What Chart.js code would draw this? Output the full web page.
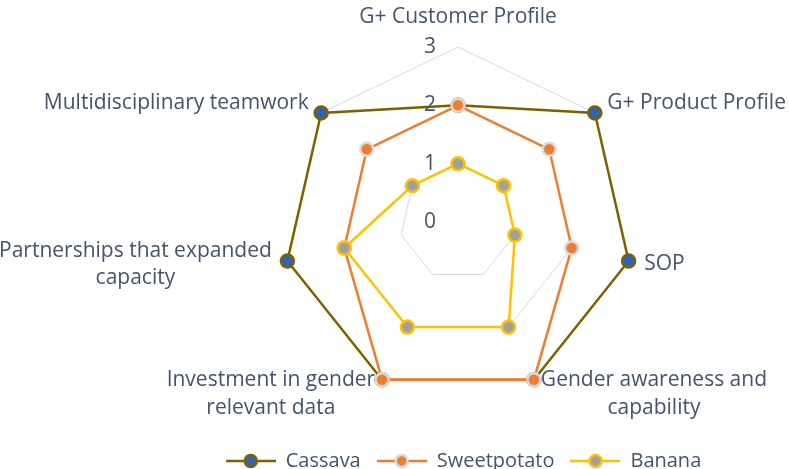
<!DOCTYPE html>
<html>
<head>
<meta charset="utf-8">
<script src="https://cdn.jsdelivr.net/npm/chart.js@4/dist/chart.umd.min.js"></script>
<style>
  html, body { margin: 0; padding: 0; background: #ffffff; }
  #wrap { width: 789px; height: 469px; }
</style>
</head>
<body>
<div id="wrap"><canvas id="c" width="789" height="469"></canvas></div>
<script>
// ---- data ----
const categories = [
  "G+ Customer Profile",
  "G+ Product Profile",
  "SOP",
  ["Gender awareness and", "capability"],
  ["Investment in gender", "relevant data"],
  ["Partnerships that expanded", "capacity"],
  "Multidisciplinary teamwork"
];
const seriesNames = ["Cassava", "Sweetpotato", "Banana"];
const cassava     = [2, 3, 3, 3, 3, 3, 3];
const sweetpotato = [2, 2, 2, 3, 3, 2, 2];
const banana      = [1, 1, 1, 2, 2, 2, 1];
const tickValues  = [0, 1, 2, 3];

// ---- styles ----
const TEXT = '#44546A';
const FONT = "'Open Sans', 'Liberation Sans', sans-serif";
const styles = [
  { line: '#7F6000', fill: '#2F64B4', border: '#7F6000' },
  { line: '#ED7D31', fill: '#ED7D31', border: '#DADADA' },
  { line: '#FFC000', fill: '#A0A0A0', border: '#FFC000' }
];
const LAYOUT = { cx: 458, cy: 222, r: 175, labelPad: 16, tickOffset: 28 };

function legendIcon(s) {
  const cv = document.createElement('canvas');
  cv.width = 50; cv.height = 18;
  const g = cv.getContext('2d');
  g.strokeStyle = s.line; g.lineWidth = 2.5;
  g.beginPath(); g.moveTo(0, 9); g.lineTo(50, 9); g.stroke();
  g.beginPath(); g.arc(25, 9, 6, 0, Math.PI * 2);
  g.fillStyle = s.fill; g.fill();
  g.strokeStyle = s.border; g.lineWidth = 2.5; g.stroke();
  return cv;
}
const icons = styles.map(legendIcon);

const tickPlugin = {
  id: 'sideTicks',
  afterDraw(chart) {
    const sc = chart.scales.r;
    const ctx = chart.ctx;
    ctx.save();
    ctx.font = "21px " + FONT;
    ctx.fillStyle = TEXT;
    ctx.textAlign = 'center';
    ctx.textBaseline = 'middle';
    tickValues.forEach(v => {
      const d = sc.getDistanceFromCenterForValue(v);
      ctx.fillText(String(v), sc.xCenter - LAYOUT.tickOffset, sc.yCenter - d);
    });
    ctx.restore();
  }
};

function mkDataset(i, data, order) {
  const s = styles[i];
  return {
    label: seriesNames[i],
    data: data,
    order: order,
    fill: false,
    clip: false,
    borderColor: s.line,
    backgroundColor: s.fill,
    borderWidth: 2.5,
    pointRadius: 6.5,
    pointHoverRadius: 6.5,
    pointBackgroundColor: s.fill,
    pointBorderColor: s.border,
    pointBorderWidth: 2.5,
    tension: 0
  };
}

new Chart(document.getElementById('c'), {
  type: 'radar',
  data: {
    labels: categories,
    datasets: [
      mkDataset(0, cassava, 3),
      mkDataset(1, sweetpotato, 2),
      mkDataset(2, banana, 1)
    ]
  },
  plugins: [tickPlugin],
  options: {
    responsive: false,
    animation: false,
    devicePixelRatio: 1,
    layout: { padding: { bottom: -12, left: 138, right: 0 } },
    plugins: {
      tooltip: { enabled: false },
      legend: {
        position: 'bottom',
        labels: {
          usePointStyle: true,
          pointStyleWidth: 50,
          boxHeight: 18,
          padding: 16,
          color: TEXT,
          font: { family: FONT, size: 20 },
          sort: (a, b) => a.datasetIndex - b.datasetIndex,
          generateLabels(chart) {
            const items = Chart.defaults.plugins.legend.labels.generateLabels(chart);
            items.forEach(it => { it.pointStyle = icons[it.datasetIndex]; });
            return items;
          }
        }
      }
    },
    scales: {
      r: {
        min: 0,
        max: 3,
        ticks: { stepSize: 1, display: false },
        grid: { color: '#D3DAE3', lineWidth: 1 },
        angleLines: { display: false },
        pointLabels: {
          color: TEXT,
          padding: LAYOUT.labelPad,
          font: { family: FONT, size: 21, lineHeight: 1.33 }
        },
        afterFit(scale) {
          const n = scale._pointLabels.length;
          scale.xCenter = LAYOUT.cx;
          scale.yCenter = LAYOUT.cy;
          scale.drawingArea = LAYOUT.r;
          for (let i = 0; i < n; i++) {
            const it = scale._pointLabelItems[i];
            const w = it.right - it.left, h = it.bottom - it.top;
            const p = scale.getPointPosition(i, LAYOUT.r + LAYOUT.labelPad);
            let x, y;
            if (Math.abs(p.x - scale.xCenter) < 1) {
              x = p.x;
              y = p.y < scale.yCenter ? p.y - h : p.y;
            } else if (p.x > scale.xCenter) {
              x = p.x + w / 2; y = p.y - h / 2;
            } else {
              x = p.x - w / 2; y = p.y - h / 2;
            }
            it.x = x; it.y = y; it.textAlign = 'center';
            it.left = x - w / 2; it.right = x + w / 2;
            it.top = y; it.bottom = y + h;
          }
        }
      }
    }
  }
});
</script>
</body>
</html>
